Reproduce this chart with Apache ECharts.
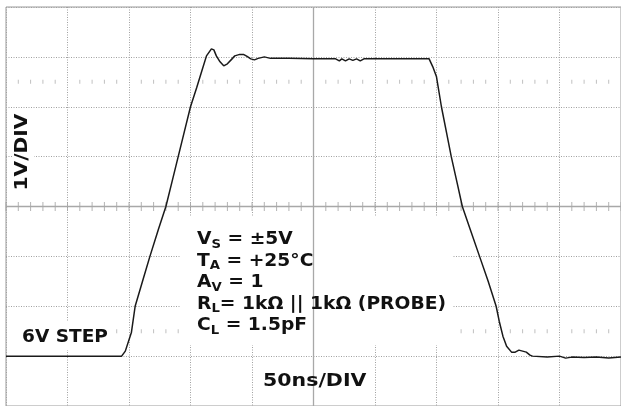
<!DOCTYPE html>
<html>
<head>
<meta charset="utf-8">
<script src="https://cdn.jsdelivr.net/npm/echarts@6/dist/echarts.min.js"></script>
<style>
html,body{margin:0;padding:0;background:#fff;}
#c{width:621px;height:406px;}
</style>
</head>
<body>
<div id="c"></div>
<script>
// time in ns (50 ns/div, 10 divisions), voltage in V (1 V/div, 8 divisions)
const timeNs = [0, 94, 97, 102, 105, 111, 117, 124, 130, 135, 140, 145, 150, 155, 159, 163, 167, 169, 171, 174, 177, 180, 183, 186, 190, 193, 196, 199, 202, 205, 210, 215, 230, 250, 268, 271, 273, 276, 279, 282, 285, 288, 291, 300, 320, 344, 347, 350, 354, 358, 362, 367, 371, 378, 385, 392, 398.5, 401, 404, 407, 411, 414, 417, 420, 423, 426, 428, 440, 450, 455, 460, 470, 480, 490, 500];
const voltV  = [-3.0, -3.0, -2.9, -2.52, -2.0, -1.5, -1.0, -0.45, 0.0, 0.5, 1.0, 1.5, 2.0, 2.38, 2.7, 3.02, 3.16, 3.14, 3.02, 2.9, 2.82, 2.86, 2.94, 3.02, 3.05, 3.05, 3.01, 2.96, 2.94, 2.97, 3.0, 2.97, 2.97, 2.96, 2.96, 2.92, 2.96, 2.92, 2.96, 2.93, 2.96, 2.92, 2.96, 2.96, 2.96, 2.96, 2.8, 2.6, 2.0, 1.5, 1.0, 0.45, 0.0, -0.5, -1.0, -1.5, -2.0, -2.3, -2.6, -2.8, -2.92, -2.92, -2.88, -2.9, -2.92, -2.98, -3.0, -3.02, -3.0, -3.04, -3.02, -3.03, -3.02, -3.04, -3.02];

const xMin = 0, xMax = 500, xDiv = 50;
const yMin = -4, yMax = 4, yDiv = 1;
const centerTime = 250, centerVolt = 0;
const minorTickTimes = [0,10,20,30,40,50,60,70,80,90,100,110,120,130,140,150,160,170,180,190,200,210,220,230,240,250,260,270,280,290,300,310,320,330,340,350,360,370,380,390,400,410,420,430,440,450,460,470,480,490,500];
const markerRowVolts = [2.5, -2.5];

const chart = echarts.init(document.getElementById('c'), null, {renderer: 'canvas'});

const wave = timeNs.map((t, i) => [t, voltV[i]]);
const centerTicks = minorTickTimes.map(t => [t, centerVolt]);
const rowTicks = [];
markerRowVolts.forEach(v => minorTickTimes.forEach(t => { if (t % xDiv !== 0) rowTicks.push([t, v]); }));

const FONT = '"DejaVu Sans", sans-serif';

chart.setOption({
  animation: false,
  backgroundColor: '#fff',
  grid: {left: 6, top: 7, width: 616, height: 400, show: true, borderColor: '#9a9a9a', borderWidth: 1, backgroundColor: 'transparent'},
  xAxis: {
    type: 'value', min: xMin, max: xMax, interval: xDiv,
    axisLabel: {show: false}, axisTick: {show: false}, axisLine: {show: false},
    splitLine: {show: true, lineStyle: {color: '#a0a0a0', type: [1, 1.5], width: 1}}
  },
  yAxis: {
    type: 'value', min: yMin, max: yMax, interval: yDiv,
    axisLabel: {show: false}, axisTick: {show: false}, axisLine: {show: false},
    splitLine: {show: true, lineStyle: {color: '#a0a0a0', type: [1, 1.5], width: 1}}
  },
  graphic: [
    {type: 'rect', z: 5, shape: {x: 180, y: 216, width: 272, height: 129}, style: {fill: '#fff'}},
    {type: 'rect', z: 5, shape: {x: 14, y: 322, width: 102, height: 28}, style: {fill: '#fff'}},
    {type: 'rect', z: 5, shape: {x: 12, y: 108, width: 22, height: 88}, style: {fill: '#fff'}},
    {type: 'text', z: 6, x: 22, y: 337, scaleX: 1.03, style: {text: '6V STEP', font: 'bold 18px ' + FONT, fill: '#111', textVerticalAlign: 'middle'}},
    {type: 'text', z: 6, x: 263, y: 381, scaleX: 1.14, style: {text: '50ns/DIV', font: 'bold 18px ' + FONT, fill: '#111', textVerticalAlign: 'middle'}},
    {type: 'text', z: 6, x: 22, y: 152, rotation: Math.PI / 2, scaleX: 1.12, style: {text: '1V/DIV', font: 'bold 18px ' + FONT, fill: '#111', textAlign: 'center', textVerticalAlign: 'middle'}},
    {type: 'text', z: 6, x: 197, y: 229, scaleX: 1.1, style: {
      text: '{m|V}{s|S}{m| = ±5V}\n{m|T}{s|A}{m| = +25°C}\n{m|A}{s|V}{m| = 1}\n{m|R}{s|L}{m|= 1kΩ || 1kΩ (PROBE)}\n{m|C}{s|L}{m| = 1.5pF}',
      fill: '#111',
      rich: {
        m: {font: 'bold 17px ' + FONT, fill: '#111', lineHeight: 21.5, verticalAlign: 'middle'},
        s: {font: 'bold 12px ' + FONT, fill: '#111', lineHeight: 12, verticalAlign: 'bottom'}
      }
    }}
  ],
  series: [
    {
      type: 'line', data: [], silent: true,
      markLine: {
        silent: true, symbol: 'none', label: {show: false},
        lineStyle: {color: '#a8a8a8', type: 'solid', width: 1.3},
        data: [{xAxis: centerTime}, {yAxis: centerVolt}]
      }
    },
    {type: 'scatter', data: centerTicks, symbol: 'rect', symbolSize: [1, 9], itemStyle: {color: '#a0a0a0'}, silent: true, z: 3},
    {type: 'scatter', data: rowTicks, symbol: 'rect', symbolSize: [1, 4], itemStyle: {color: '#b0b0b0'}, silent: true, z: 3},
    {
      type: 'line', data: wave, showSymbol: false, symbol: 'none', smooth: false, silent: true, z: 10,
      lineStyle: {color: '#1a1a1a', width: 1.5}
    }
  ]
});
</script>
</body>
</html>
